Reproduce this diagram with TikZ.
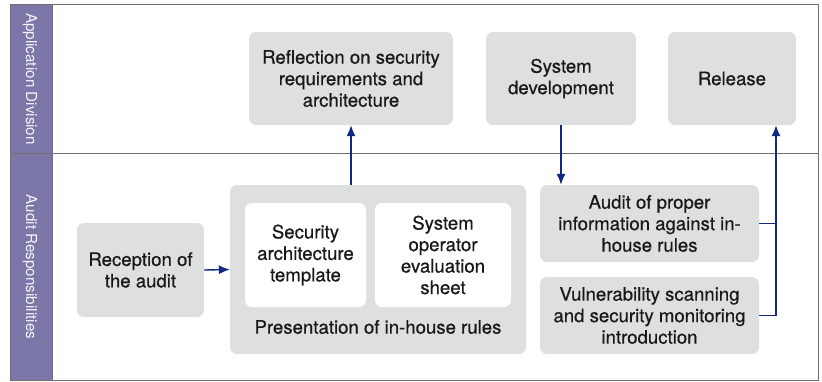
\documentclass[tikz,border=0pt]{standalone}
\usepackage{fontspec}
\setmainfont{TeX Gyre Heros}
\newfontfamily\boxfont[FakeBold=0.6]{TeX Gyre Heros}
\usetikzlibrary{arrows.meta}
\definecolor{laneband}{RGB}{123,119,168}
\definecolor{boxgray}{RGB}{222,223,223}
\definecolor{flownavy}{RGB}{16,40,128}
\definecolor{framegray}{RGB}{112,112,112}

\begin{document}
\begin{tikzpicture}[x = 1pt, y = -1pt]
\tikzstyle{stepBox} = [rounded corners = 7pt, fill = boxgray, align = center, inner sep = 2pt,
  text = black!90, font = \boxfont\fontsize{18.6}{21.5}\selectfont]
\tikzstyle{sheetBox} = [stepBox, fill = white]
\tikzstyle{laneLabel} = [rotate = -90, text = white!92!laneband, font = \fontsize{15.2}{16}\selectfont]
\tikzstyle{flow} = [draw = flownavy, line width = 1.4pt, -{Latex[length = 11pt, width = 9pt]}]
\useasboundingbox (0,0) rectangle (822,381);
% lanes
\fill[laneband] (10,4) rectangle (52,380);
\draw[framegray, line width = 0.9pt] (10,4) rectangle (818,380);
\draw[framegray, line width = 0.9pt] (10,153.5) -- (818,153.5);
\draw[framegray, line width = 0.9pt] (52,4) -- (52,380);
\node[laneLabel] (appLane) at (30,79) {Application Division};
\node[laneLabel] (auditLane) at (30,267) {Audit Responsibilities};
% application division
\node[stepBox, minimum width = 204pt, minimum height = 93pt] (reflect) at (351,78.5)
  {Reflection on security\\requirements and\\architecture};
\node[stepBox, minimum width = 150pt, minimum height = 93pt] (sysdev) at (561,78.5)
  {System\\development};
\node[stepBox, minimum width = 128pt, minimum height = 93pt] (release) at (732,78.5) {Release};
% audit responsibilities
\node[stepBox, minimum width = 127pt, minimum height = 94pt] (reception) at (140.5,270)
  {Reception of\\the audit};
\node[stepBox, minimum width = 296pt, minimum height = 169pt] (rules) at (378,269.5) {};
\node[sheetBox, minimum width = 121pt, minimum height = 104pt] (template) at (305.5,255)
  {Security\\architecture\\template};
\node[sheetBox, minimum width = 136pt, minimum height = 104pt] (evalsheet) at (443,255)
  {System\\operator\\evaluation\\sheet};
\node[text = black!90, font = \boxfont\fontsize{18.6}{21.5}\selectfont] (rulesLabel) at (378,327)
  {Presentation of in-house rules};
\node[stepBox, minimum width = 219pt, minimum height = 77pt] (infoaudit) at (649.5,223.5)
  {Audit of proper\\information against in-\\house rules};
\node[stepBox, minimum width = 219pt, minimum height = 77pt] (vulnscan) at (649.5,315.5)
  {Vulnerability scanning\\and security monitoring\\introduction};
\coordinate (joint) at (776,315.5);
% connectors
\draw[flow] (reception.east) -- (rules.west);
\draw[flow] (rules.north -| reflect.south) -- (reflect.south);
\draw[flow] (sysdev.south) -- (sysdev.south |- infoaudit.north);
\draw[draw = flownavy, line width = 1.4pt] (vulnscan.east) -- (joint);
\draw[draw = flownavy, line width = 1.4pt] (infoaudit.east) -- (infoaudit.east -| joint);
\draw[flow] (joint) -- (joint |- release.south);
\end{tikzpicture}
\end{document}
